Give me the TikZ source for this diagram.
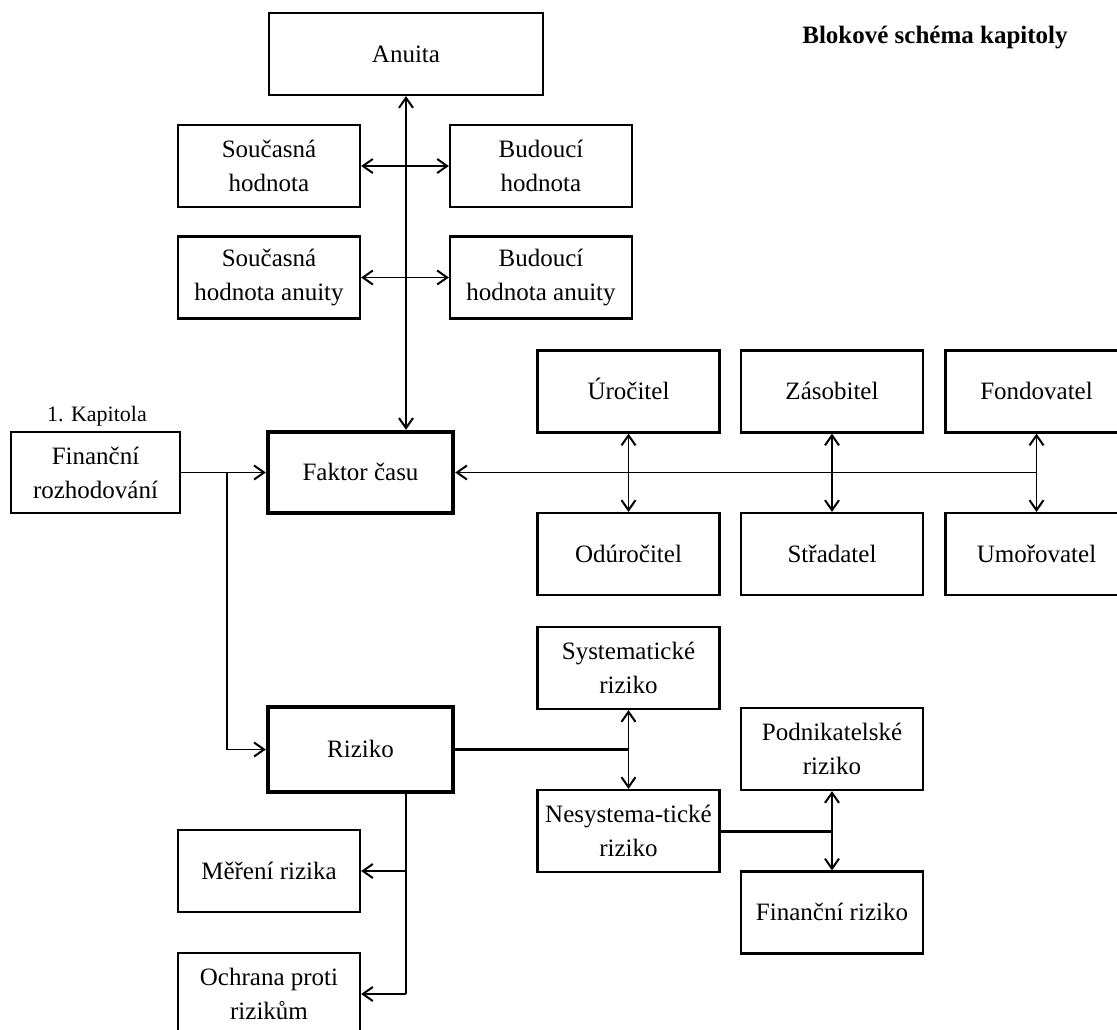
\documentclass[tikz,border=0pt]{standalone}
\usepackage{fontspec}
\setmainfont{Liberation Serif}
\usetikzlibrary{arrows.meta, positioning, calc}

\begin{document}
\begin{tikzpicture}[
  x=0.5pt, y=-0.5pt,
  every node/.style={font=\fontsize{12.5}{17}\selectfont},
  sbox/.style={rectangle, draw, line width=1.1pt, minimum width=91pt, minimum height=41pt, inner sep=0pt, align=center},
  mbox/.style={sbox, line width=2.2pt, minimum width=92.5pt},
  oneline/.style={text height=9.4pt, text depth=1.4pt},
  conn/.style={line width=0.8pt},
  bconn/.style={line width=1.5pt},
  arr/.style={conn, -{Straight Barb[length=5pt,width=7pt,line width=1pt]}},
  darr/.style={conn, {Straight Barb[length=5pt,width=7pt,line width=1pt]}-{Straight Barb[length=5pt,width=7pt,line width=1pt]}},
]
\useasboundingbox (0,0) rectangle (1117,1029);

% Title
\node[font=\fontsize{12.5}{17}\selectfont\bfseries] (title) at (935,38) {Blokové schéma kapitoly};

% Time value of money
\node[sbox, oneline, minimum width=137pt] (anuita) at (406,54) {Anuita};
\node[sbox] (sh) at (269,166) {Současná\\hodnota};
\node[sbox] (bh) at (541,166) {Budoucí\\hodnota};
\node[sbox] (sha) at (269,277.5) {Současná\\hodnota anuity};
\node[sbox] (bha) at (541,277.5) {Budoucí\\hodnota anuity};

% Chapter 1 and main blocks
\node (kap) at (97,416) [font=\fontsize{11}{13}\selectfont] {1. Kapitola};
\node[sbox, minimum width=84.5pt, minimum height=40.5pt] (frozh) at (95.5,472.5) {Finanční\\rozhodování};
\node[mbox, oneline, minimum height=40.5pt] (faktor) at (360.5,472.5) {Faktor času};
\node[mbox, oneline, minimum height=42.5pt] (riziko) at (360.5,749.5) {Riziko};

% Factors
\node[sbox, oneline] (uroc) at (628.5,391.5) {Úročitel};
\node[sbox, oneline] (zasob) at (832,391.5) {Zásobitel};
\node[sbox, oneline] (fond) at (1036.5,391.5) {Fondovatel};
\node[sbox, oneline] (oduroc) at (628.5,554) {Odúročitel};
\node[sbox, oneline] (strad) at (832,554) {Střadatel};
\node[sbox, oneline] (umor) at (1036.5,554) {Umořovatel};

% Risk
\node[sbox] (syst) at (628.5,668) {Systematické\\riziko};
\node[sbox] (nesyst) at (628.5,831) {Nesystema-tické\\riziko};
\node[sbox] (podn) at (832,749) {Podnikatelské\\riziko};
\node[sbox, oneline] (finriz) at (832,912.5) {Finanční riziko};
\node[sbox, oneline] (mereni) at (269,871) {Měření rizika};
\node[sbox] (ochrana) at (269,994) {Ochrana proti\\rizikům};

% Helper points
\coordinate (branch) at (227,472.5);
\coordinate (rdown) at (406,994);

% Connections
\draw[darr] (faktor.north -| anuita) -- (anuita.south);
\draw[darr] (sh) -- (bh);
\draw[darr] (sha) -- (bha);
\draw[arr] (frozh) -- (faktor);
\draw[arr] (branch) |- (riziko.west);
\draw[arr] (fond.south |- faktor.east) -- (faktor.east);
\draw[darr] (uroc) -- (oduroc);
\draw[darr] (zasob) -- (strad);
\draw[darr] (fond) -- (umor);
\draw[bconn] (riziko.east) -- (riziko.east -| syst);
\draw[darr] (syst) -- (nesyst);
\draw[bconn] (nesyst.east) -- (nesyst.east -| podn);
\draw[darr] (podn) -- (finriz);
\draw[conn] (riziko.south -| rdown) -- (rdown);
\draw[arr] (mereni.east -| rdown) -- (mereni.east);
\draw[arr] (rdown) -- (ochrana.east);

\end{tikzpicture}
\end{document}
